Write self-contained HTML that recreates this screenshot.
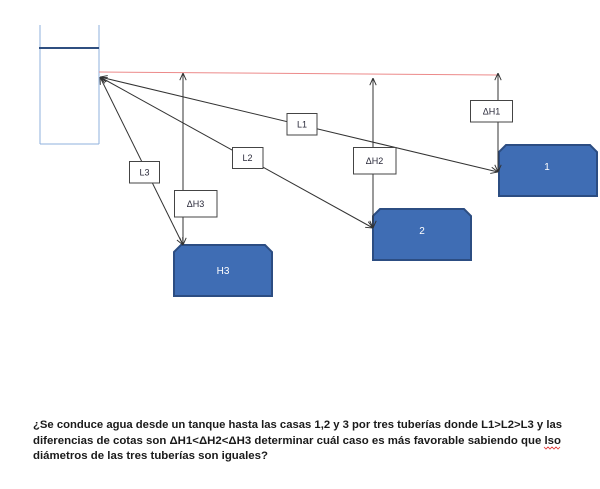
<!DOCTYPE html>
<html>
<head>
<meta charset="utf-8">
<style>
  html,body{margin:0;padding:0;background:#fff;}
  body{width:600px;height:489px;overflow:hidden;}
  svg{display:block;}
  .lbl{font-family:"Liberation Sans",sans-serif;font-size:9px;fill:#2a2a3a;}
  .hl{font-family:"Liberation Sans",sans-serif;font-size:10px;fill:#ffffff;}
  .q{font-family:"Liberation Sans",sans-serif;font-size:11px;font-weight:bold;fill:#1a1a1a;}
</style>
</head>
<body>
<svg width="600" height="489" viewBox="0 0 600 489" xmlns="http://www.w3.org/2000/svg">
  <defs>
    <marker id="ar" viewBox="0 0 10 10" refX="10" refY="5" markerWidth="8" markerHeight="8" markerUnits="userSpaceOnUse" orient="auto-start-reverse">
      <path d="M1,1 L10,5 L1,9" fill="none" stroke="#333" stroke-width="1.2"/>
    </marker>
  </defs>

  <!-- tank -->
  <line x1="40" y1="25" x2="40" y2="144" stroke="#8fb0dc" stroke-width="1"/>
  <line x1="99" y1="25" x2="99" y2="144" stroke="#8fb0dc" stroke-width="1"/>
  <line x1="40" y1="144" x2="99" y2="144" stroke="#8fb0dc" stroke-width="1"/>
  <line x1="39" y1="48" x2="99" y2="48" stroke="#2f4f80" stroke-width="2"/>

  <!-- red reference line -->
  <line x1="99" y1="72" x2="498" y2="75" stroke="#ec8a8a" stroke-width="1"/>

  <!-- houses -->
  <path d="M174,252 L181,245 L265,245 L272,252 L272,296 L174,296 Z" fill="#3f6db4" stroke="#2c4d82" stroke-width="2"/>
  <text class="hl" x="223" y="274" text-anchor="middle">H3</text>
  <path d="M373,216 L380,209 L464,209 L471,216 L471,260 L373,260 Z" fill="#3f6db4" stroke="#2c4d82" stroke-width="2"/>
  <text class="hl" x="422" y="234" text-anchor="middle">2</text>
  <path d="M499,152 L506,145 L590,145 L597,152 L597,196 L499,196 Z" fill="#3f6db4" stroke="#2c4d82" stroke-width="2"/>
  <text class="hl" x="547" y="170" text-anchor="middle">1</text>

  <!-- pipes -->
  <line x1="100" y1="77" x2="498" y2="172" stroke="#333" stroke-width="1" marker-start="url(#ar)" marker-end="url(#ar)"/>
  <line x1="100" y1="77" x2="373" y2="228" stroke="#333" stroke-width="1" marker-start="url(#ar)" marker-end="url(#ar)"/>
  <line x1="100" y1="77" x2="183" y2="245" stroke="#333" stroke-width="1" marker-start="url(#ar)" marker-end="url(#ar)"/>

  <!-- elevation differences -->
  <line x1="183" y1="73" x2="183" y2="245" stroke="#333" stroke-width="1" marker-start="url(#ar)" marker-end="url(#ar)"/>
  <line x1="373" y1="78" x2="373" y2="228" stroke="#333" stroke-width="1" marker-start="url(#ar)" marker-end="url(#ar)"/>
  <line x1="498" y1="73" x2="498" y2="172" stroke="#333" stroke-width="1" marker-start="url(#ar)" marker-end="url(#ar)"/>

  <!-- label boxes -->
  <rect x="287" y="113.5" width="30" height="21.5" fill="#fff" stroke="#444" stroke-width="1"/>
  <text class="lbl" x="302" y="127.5" text-anchor="middle">L1</text>
  <rect x="232.5" y="147.5" width="30.5" height="21" fill="#fff" stroke="#444" stroke-width="1"/>
  <text class="lbl" x="247.5" y="161" text-anchor="middle">L2</text>
  <rect x="129.5" y="161.5" width="30" height="21.5" fill="#fff" stroke="#444" stroke-width="1"/>
  <text class="lbl" x="144.5" y="175.5" text-anchor="middle">L3</text>
  <rect x="174.5" y="190.5" width="42.5" height="26.5" fill="#fff" stroke="#444" stroke-width="1"/>
  <text class="lbl" x="195.5" y="207" text-anchor="middle">ΔH3</text>
  <rect x="353.5" y="147.5" width="42.5" height="26.5" fill="#fff" stroke="#444" stroke-width="1"/>
  <text class="lbl" x="374.5" y="164" text-anchor="middle">ΔH2</text>
  <rect x="470.5" y="100.5" width="42" height="21.5" fill="#fff" stroke="#444" stroke-width="1"/>
  <text class="lbl" x="491.5" y="114.5" text-anchor="middle">ΔH1</text>

  <!-- question text -->
  <text class="q" x="33" y="428" textLength="529" lengthAdjust="spacingAndGlyphs">¿Se conduce agua desde un tanque hasta las casas 1,2 y 3 por tres tuberías donde L1&gt;L2&gt;L3 y las</text>
  <text class="q" x="33" y="444" textLength="528" lengthAdjust="spacingAndGlyphs">diferencias de cotas son ΔH1&lt;ΔH2&lt;ΔH3 determinar cuál caso es más favorable sabiendo que lso</text>
  <text class="q" x="33" y="459" textLength="235" lengthAdjust="spacingAndGlyphs">diámetros de las tres tuberías son iguales?</text>
  <path d="M544,447 l2,2 l2,-2 l2,2 l2,-2 l2,2 l2,-2 l2,2 l2,-2" fill="none" stroke="#e03030" stroke-width="0.8"/>
</svg>
</body>
</html>
